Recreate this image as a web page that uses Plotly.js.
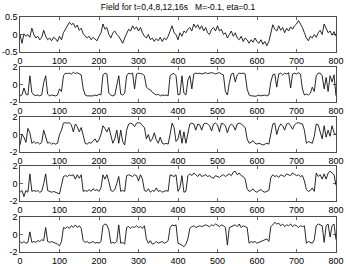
<!DOCTYPE html>
<html><head><meta charset="utf-8">
<script src="https://cdn.plot.ly/plotly-3.0.1.min.js"></script>
<style>html,body{margin:0;padding:0;background:#fff}#c{width:346px;height:264px}</style>
</head><body><div id="c"></div>
<script>
// sample spacing along x (units) for all series
const sampleStep = 5;
const titleText = "Field for t=0,4,8,12,16s&nbsp;&nbsp;&nbsp;M=-0.1, eta=0.1";
const xTicks = [0,100,200,300,400,500,600,700,800];
const yTicks1 = [-0.5,0,0.5];
const yTicksN = [-2,0,2];

const field_t0 = [
 0.0,-0.25,0.02,-0.05,0.0,-0.08,0.18,0.0,-0.1,-0.05,
 -0.15,-0.08,0.12,-0.05,-0.15,-0.1,-0.18,-0.08,-0.12,-0.2,
 -0.05,-0.15,0.05,0.15,0.25,0.35,0.28,0.32,0.2,0.27,
 0.12,0.18,0.02,-0.05,-0.1,-0.05,-0.15,-0.08,-0.12,-0.18,
 -0.05,0.05,0.3,0.15,0.2,0.0,-0.1,0.05,0.1,0.0,
 -0.05,-0.15,-0.25,-0.1,0.05,0.15,0.1,0.25,0.15,0.22,
 0.1,0.2,0.05,-0.05,-0.1,0.0,-0.15,-0.1,-0.2,-0.12,
 -0.18,-0.08,-0.2,-0.1,-0.15,-0.05,0.1,0.25,0.05,0.0,
 -0.15,0.05,-0.05,0.1,0.05,0.15,0.2,0.1,0.3,0.2,
 0.28,0.15,0.25,0.1,0.2,0.05,0.0,0.15,0.2,0.1,
 0.25,0.1,0.15,0.0,0.05,-0.1,0.0,0.1,-0.05,0.05,
 -0.1,-0.15,-0.05,-0.2,-0.1,-0.15,-0.25,-0.15,-0.22,-0.1,
 -0.2,-0.25,-0.15,-0.28,-0.2,-0.32,-0.2,0.05,0.28,0.15,
 0.1,0.25,0.12,0.2,0.05,0.18,0.1,0.22,0.15,0.25,
 0.3,0.4,0.3,0.2,0.05,-0.1,-0.18,-0.05,-0.1,0.0,
 -0.08,0.05,0.12,0.0,0.3,0.15,0.05,0.1,-0.02,0.08,
 -0.05];

const field_t4 = [
 -1.3,-1.2,-0.4,-1.1,-1.2,1.0,-0.9,-1.2,-1.25,-1.2,
 -1.3,-1.2,0.2,1.0,-1.1,-1.3,-1.2,-1.25,-1.3,-1.2,
 -0.5,-0.8,1.0,1.3,1.25,1.3,1.2,1.4,1.25,1.35,
 1.2,1.1,-0.5,-1.2,-1.3,-1.3,-1.25,-1.3,-1.2,-1.3,
 -1.1,-1.2,1.1,1.3,1.2,-1.0,-1.2,-1.3,-1.2,0.0,
 1.0,-1.1,-1.2,-1.0,1.0,1.3,1.2,1.3,-0.5,1.2,
 1.3,1.25,1.2,1.0,-0.3,-0.5,-0.6,-0.9,-1.1,-1.2,
 -1.1,-1.3,-1.2,-1.25,-1.2,-1.3,1.0,1.2,1.25,1.0,
 -1.2,-1.1,1.0,-1.0,-1.2,0.5,1.0,-0.5,1.2,1.3,
 1.25,1.3,1.2,1.3,1.35,1.25,1.3,1.35,1.3,1.2,
 1.3,1.35,1.2,1.1,-0.8,-1.2,0.2,1.2,1.3,0.3,
 1.1,1.3,1.25,1.3,1.2,-0.5,-1.2,-1.3,-1.3,-1.35,
 -1.3,-1.2,-1.3,-1.25,-1.2,-1.3,-1.2,0.3,1.1,1.2,
 -0.3,1.2,1.3,1.1,1.3,1.2,1.35,-0.4,1.2,1.3,
 1.2,1.35,1.2,-0.5,-1.2,-1.1,-1.2,-1.0,-0.3,-0.8,
 1.0,1.3,1.3,1.0,-0.5,0.8,-0.8,1.0,0.3,1.1,
 -1.3];

const field_t8 = [
 -1.2,0.0,-0.3,-0.9,0.7,0.2,-1.0,-0.8,-1.0,-0.9,
 -1.1,-0.9,0.5,-0.2,-1.0,-0.9,-1.1,-1.0,-1.1,-1.0,
 0.0,0.5,1.3,1.35,1.3,1.35,1.1,0.3,1.2,0.9,
 0.3,0.8,-0.3,-1.0,-1.1,-0.9,-1.0,-0.8,-0.5,-0.9,
 -0.6,0.0,1.0,0.7,0.3,0.8,-0.3,-1.0,-0.5,0.5,
 -1.0,0.5,-0.8,-1.2,0.5,1.2,1.3,1.2,0.9,1.3,
 1.35,1.3,1.0,0.8,-0.5,0.0,-0.8,-0.5,0.2,-0.6,
 -1.0,-0.3,-1.0,-1.1,-1.0,-1.1,0.0,1.3,0.8,-0.8,
 -0.5,0.5,-1.0,0.3,-1.0,0.2,1.2,1.3,1.2,0.5,
 1.2,1.1,0.5,1.2,1.3,1.2,1.0,0.4,1.2,1.3,
 1.1,0.3,1.3,1.2,1.0,0.2,0.9,1.2,1.0,0.5,
 1.2,1.3,1.2,1.0,0.8,-0.5,-1.0,-0.9,-0.7,-1.0,
 -1.1,-1.0,-1.1,-1.2,-1.1,-1.0,-1.1,0.3,1.2,1.3,
 0.0,0.8,1.2,1.0,0.5,1.2,1.3,1.0,0.6,1.1,
 1.3,1.35,1.3,1.2,0.5,-1.0,-0.8,-0.9,-1.0,-0.2,
 1.2,1.1,0.3,-0.5,1.0,-0.3,0.5,-0.2,1.0,0.2,
 0.0];

const field_t12 = [
 -1.0,-0.8,-1.5,-0.8,-1.0,1.1,-0.9,-0.8,-0.9,-0.8,
 -1.0,-0.9,0.0,1.1,-0.8,-0.9,-1.0,-0.9,-1.0,-1.1,
 -1.2,-0.2,0.8,0.9,0.8,1.0,0.9,1.0,0.5,1.0,
 0.6,1.0,-0.9,-0.8,-0.9,-0.7,-0.9,-0.6,-0.8,-0.7,
 -0.9,-0.5,1.0,0.5,1.0,0.2,-0.8,-0.9,-0.7,0.0,
 0.8,-0.9,-0.8,-0.9,0.9,1.0,0.9,0.8,1.0,0.9,
 0.3,1.0,0.5,-0.8,-0.9,-0.6,-1.0,-0.8,-0.9,-0.5,
 -0.9,-0.8,-1.0,-0.9,-0.8,-0.9,1.0,0.9,0.8,1.0,
 -0.9,-0.5,0.9,-1.0,-0.9,0.9,1.1,0.9,1.2,1.0,
 0.8,1.1,0.8,0.9,1.0,0.8,0.9,0.7,0.6,0.9,
 0.8,0.7,0.9,1.0,0.8,1.0,1.1,0.9,1.3,1.4,
 1.0,1.2,0.9,0.8,0.5,-0.6,-0.9,-0.8,-0.6,-0.9,
 -1.0,-0.8,-0.7,-0.9,-1.0,-0.9,-0.8,0.7,1.0,0.8,
 0.9,0.7,1.0,0.9,0.8,1.1,1.0,0.9,1.2,1.0,
 0.9,1.0,0.8,0.9,0.3,-0.7,-0.9,-0.8,-0.5,-0.9,
 1.2,0.8,1.0,0.5,1.1,0.5,1.2,1.4,1.2,1.0,
 -0.2];

const field_t16 = [
 -0.8,-1.0,-0.8,-1.0,-0.9,0.3,-0.9,-0.8,-0.9,-0.7,
 -0.8,-0.6,-0.7,0.8,-0.8,-0.9,-0.8,-0.9,-1.0,-1.1,
 -1.3,-0.8,0.8,0.7,0.9,0.7,1.0,0.8,1.1,0.8,
 1.0,0.7,-0.7,-0.9,-0.8,-1.0,-0.9,-0.8,-1.0,-0.9,
 -1.0,-0.8,1.0,1.2,1.1,0.5,-1.0,-0.9,-1.0,-0.8,
 1.1,-1.0,-0.9,-1.1,0.8,0.9,0.7,0.9,0.8,1.0,
 0.8,0.9,0.7,1.0,-0.5,-1.0,-0.7,-1.1,-1.0,-0.8,
 -1.0,-0.9,-0.8,-1.0,-0.9,-0.7,0.8,1.1,1.0,1.1,
 -1.0,-1.1,-1.2,-1.4,-1.1,-0.5,0.7,0.9,1.0,0.8,
 0.9,1.0,0.9,1.0,1.1,1.0,0.9,1.1,1.0,1.2,
 1.0,0.9,1.1,1.0,0.8,-1.2,0.8,0.9,1.0,1.1,
 0.9,1.2,0.8,1.0,0.9,0.8,-1.0,-0.8,-0.9,-0.8,
 -1.0,-0.9,-0.8,-0.7,-0.6,-0.5,-0.8,0.9,1.1,1.4,
 1.2,1.3,1.0,1.2,0.9,1.1,1.0,1.2,0.9,1.1,
 1.0,0.8,1.0,0.9,1.0,-1.0,-0.8,-0.9,-1.0,-0.6,
 1.0,1.2,1.1,1.0,-0.9,1.0,1.2,-0.3,1.0,1.2,
 -0.6];

const series = [field_t0, field_t4, field_t8, field_t12, field_t16];
const H = 264;
const tops = [17, 67, 117, 166, 217];
const bots = [52, 102, 152, 201, 252];
const fnt = {family: "Liberation Sans, Arial, Helvetica, sans-serif", size: 9, color: "#000"};

const data = series.map((ys, i) => ({
  x: ys.map((_, k) => k * sampleStep),
  y: ys,
  type: "scatter", mode: "lines",
  line: {color: "#111", width: 0.9},
  xaxis: "x" + (i ? i + 1 : ""),
  yaxis: "y" + (i ? i + 1 : ""),
  hoverinfo: "skip"
}));

const layout = {
  width: 346, height: 264,
  margin: {l: 20, r: 10, t: 0, b: 0},
  paper_bgcolor: "#fff", plot_bgcolor: "#fff",
  showlegend: false,
  font: fnt,
  title: {text: titleText, font: {family: fnt.family, size: 8.5, color: "#000"},
          x: 178/346, xanchor: "center", y: 1 - 7/264, yanchor: "middle", xref: "container", yref: "container"}
};

series.forEach((ys, i) => {
  const sfx = i ? String(i + 1) : "";
  layout["xaxis" + sfx] = {
    domain: [0, 1], range: [0, 800], anchor: "y" + sfx,
    tickvals: xTicks, ticktext: xTicks.map(String),
    ticks: "inside", ticklen: 3, tickwidth: 0.6, tickcolor: "#000",
    showline: true, linecolor: "#000", linewidth: 0.7, mirror: "ticks",
    showgrid: false, zeroline: false, tickfont: fnt
  };
  layout["yaxis" + sfx] = {
    domain: [1 - bots[i] / H, 1 - tops[i] / H],
    range: i === 0 ? [-0.5, 0.5] : [-2, 2],
    anchor: "x" + sfx,
    tickvals: i === 0 ? yTicks1 : yTicksN,
    ticktext: (i === 0 ? yTicks1 : yTicksN).map(v => (v < 0 ? "-" + Math.abs(v) : String(v))),
    ticks: "inside", ticklen: 3, tickwidth: 0.6, tickcolor: "#000",
    showline: true, linecolor: "#000", linewidth: 0.7, mirror: "ticks",
    showgrid: false, zeroline: false, tickfont: fnt
  };
});

Plotly.newPlot("c", data, layout, {staticPlot: true, displayModeBar: false});
</script></body></html>
